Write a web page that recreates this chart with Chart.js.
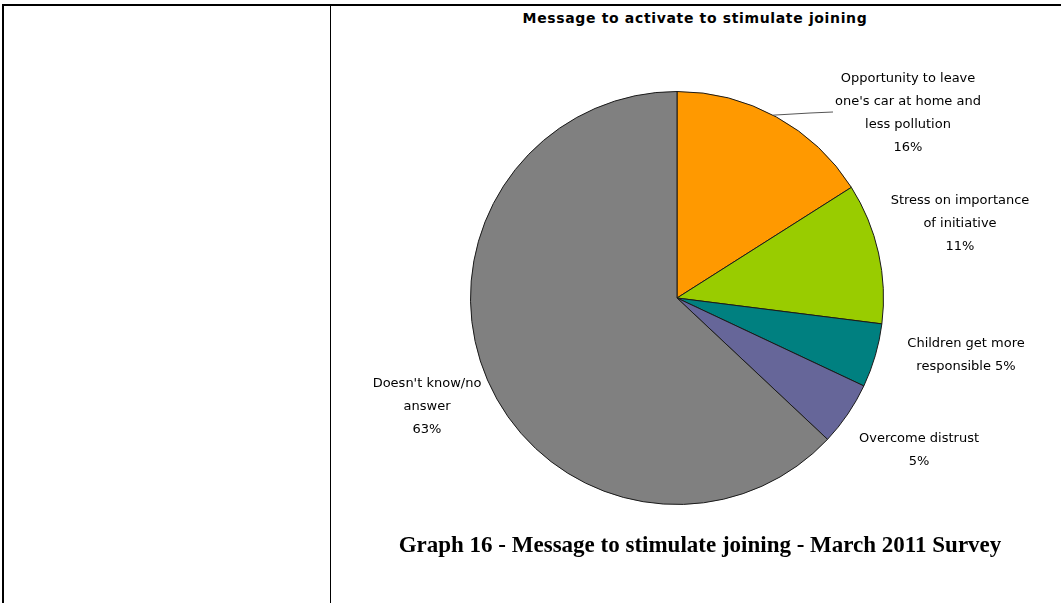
<!DOCTYPE html>
<html>
<head>
<meta charset="utf-8">
<script src="https://cdn.jsdelivr.net/npm/chart.js@4.4.1/dist/chart.umd.min.js"></script>
<style>
  html, body { margin: 0; padding: 0; background: #fff; }
  body { width: 1061px; height: 603px; position: relative; overflow: hidden; }
  .rule { position: absolute; background: #000; }
  #title {
    position: absolute; left: 331px; width: 728px; top: 10px;
    text-align: center; font: bold 14px "DejaVu Sans", sans-serif; letter-spacing: 0.65px;
    color: #000;
  }
  #caption {
    position: absolute; left: 331px; width: 738px; top: 532px;
    text-align: center; font: bold 23px "Liberation Serif", "Times New Roman", serif;
    color: #000;
  }
  #pieBox { position: absolute; left: 331px; top: 7px; width: 726px; height: 596px; }
</style>
</head>
<body>
<!-- table frame -->
<div class="rule" style="left:2px; top:4px; width:1059px; height:2px;"></div>
<div class="rule" style="left:2px; top:4px; width:2px; height:599px;"></div>
<div class="rule" style="left:330px; top:4px; width:1px; height:599px;"></div>

<div id="title">Message to activate to stimulate joining</div>
<div id="pieBox"><canvas id="pie"></canvas></div>
<div id="caption">Graph 16 - Message to stimulate joining - March 2011 Survey</div>

<script>
// survey answers, clockwise from 12 o'clock
const categories = [
  "Opportunity to leave\none's car at home and\nless pollution",
  "Stress on importance\nof initiative",
  "Children get more\nresponsible",
  "Overcome distrust",
  "Doesn't know/no\nanswer"
];
const shares = [16, 11, 5, 5, 63];
const sliceColors = ['#FF9900', '#99CC00', '#008080', '#666699', '#808080'];

// where each label block sits, relative to the pie centre (first line centre)
const labelOffsets = [[231, -219], [283, -97], [289, 46], [242, 141], [-250, 86]];
// put the percentage on the last text line instead of its own line
const pctInline = [false, false, true, false, false];
const lineGap = 23;

const pieLabels = {
  id: 'pieLabels',
  afterDraw(chart) {
    const ctx = chart.ctx;
    const arc = chart.getDatasetMeta(0).data[0];
    const cx = arc.x, cy = arc.y, r = arc.outerRadius;

    // leader line from the orange slice to its label
    const a = -62.3 * Math.PI / 180;
    ctx.save();
    ctx.strokeStyle = '#555';
    ctx.lineWidth = 1;
    ctx.beginPath();
    ctx.moveTo(cx + r * Math.cos(a), cy + r * Math.sin(a));
    ctx.lineTo(cx + 133, cy - 185);
    ctx.lineTo(cx + 156, cy - 186);
    ctx.stroke();

    ctx.fillStyle = '#000';
    ctx.font = '13px "DejaVu Sans", sans-serif';
    ctx.textAlign = 'center';
    ctx.textBaseline = 'middle';
    categories.forEach((name, i) => {
      const lines = name.split('\n');
      const pct = shares[i] + '%';
      if (pctInline[i]) lines[lines.length - 1] += ' ' + pct;
      else lines.push(pct);
      const [dx, dy] = labelOffsets[i];
      lines.forEach((t, k) => ctx.fillText(t, cx + dx, cy + dy + k * lineGap));
    });
    ctx.restore();
  }
};

new Chart(document.getElementById('pie'), {
  type: 'pie',
  data: {
    labels: categories.map(c => c.replace(/\n/g, ' ')),
    datasets: [{
      data: shares,
      backgroundColor: sliceColors,
      borderColor: '#1a1a1a',
      borderWidth: 1
    }]
  },
  options: {
    responsive: true,
    maintainAspectRatio: false,
    animation: false,
    layout: { padding: { left: 139, right: 173, top: 84, bottom: 98 } },
    plugins: {
      legend: { display: false },
      tooltip: { enabled: false }
    }
  },
  plugins: [pieLabels]
});
</script>
</body>
</html>
